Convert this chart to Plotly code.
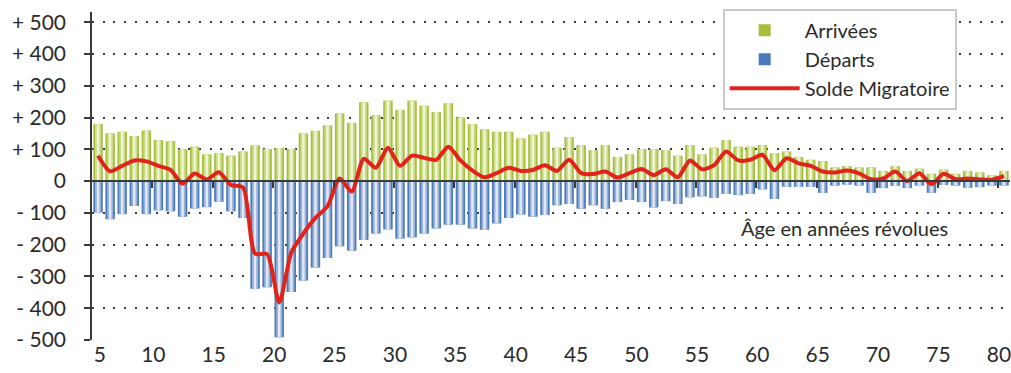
import plotly.graph_objects as go

# Ages (completed years) on the horizontal axis
ages = list(range(5, 81))

# Arrivals per age
arrivees = [179, 150, 155, 142, 159, 129, 125, 100, 108, 84,
            88, 80, 93, 112, 101, 104, 101, 150, 158, 175,
            213, 183, 248, 207, 253, 224, 253, 237, 217, 245,
            200, 179, 163, 155, 155, 134, 146, 155, 105, 138,
            113, 97, 113, 76, 84, 101, 101, 97, 80, 113,
            84, 105, 129, 108, 108, 113, 88, 93, 76, 67,
            63, 43, 47, 43, 43, 32, 47, 32, 39, 23,
            36, 23, 32, 27, 18, 32]

# Departures per age (negative)
departs = [-99, -120, -104, -78, -104, -92, -95, -112, -86, -82,
           -65, -95, -116, -339, -334, -491, -349, -313, -272, -242,
           -205, -219, -185, -165, -152, -181, -177, -165, -149, -137,
           -137, -149, -153, -133, -116, -105, -112, -107, -76, -72,
           -87, -76, -87, -66, -59, -66, -83, -63, -72, -51,
           -48, -53, -40, -44, -40, -26, -56, -18, -18, -18,
           -37, -14, -11, -14, -37, -22, -15, -22, -14, -37,
           -12, -14, -21, -19, -14, -14]

# Net migration per age
solde = [80, 31, 48, 65, 62, 48, 35, -8, 24, 5,
         28, -12, -20, -228, -230, -382, -225, -165, -116, -79,
         8, -33, 70, 42, 105, 48, 80, 73, 67, 108,
         65, 33, 12, 25, 42, 32, 35, 50, 32, 67,
         25, 22, 30, 11, 25, 38, 19, 37, 12, 65,
         37, 50, 93, 65, 67, 83, 34, 72, 56, 48,
         30, 27, 33, 24, 6, 8, 30, 0, 25, -10,
         23, 6, 8, 5, 4, 16]

# Axis labels
y_ticks = [500, 400, 300, 200, 100, 0, -100, -200, -300, -400, -500]
y_labels = ["+ 500", "+ 400", "+ 300", "+ 200", "+ 100", "0",
            "- 100", "- 200", "- 300", "- 400", "- 500"]
x_labels = [str(a) for a in range(5, 81, 5)]

FONT = "Lato, 'Open Sans', sans-serif"
TXT = "#2b2b2b"
X_RANGE = [4.5, 80.5]
Y_RANGE = [-500, 532]

fig = go.Figure()


def striped_bars(values, name, colors):
    # Layered bars of decreasing width give a light centre stripe
    for i, (w, c) in enumerate(zip([0.78, 0.5, 0.2], colors)):
        fig.add_bar(
            x=ages, y=values, width=w, name=name,
            marker=dict(color=c, line=dict(width=0)),
            showlegend=(i == 0), legendgroup=name, hoverinfo="skip",
        )


striped_bars(arrivees, "Arrivées", ["#a6bf3b", "#cbdc86", "#eef3da"])
striped_bars(departs, "Départs", ["#4b7aba", "#98b2d8", "#e3e9f4"])

fig.add_scatter(
    x=ages, y=solde, name="Solde Migratoire", xaxis="x2",
    mode="lines", line=dict(color="#e2231a", width=4, shape="spline", smoothing=0.7),
    hoverinfo="skip",
)

zero_pos = (0 - Y_RANGE[0]) / (Y_RANGE[1] - Y_RANGE[0])

fig.update_layout(
    width=1011, height=373,
    margin=dict(l=92, r=1, t=12, b=33),
    paper_bgcolor="white", plot_bgcolor="white",
    barmode="overlay",
    font=dict(family=FONT, color=TXT),
    xaxis=dict(
        range=X_RANGE, showgrid=False, zeroline=False, showline=False,
        tickmode="array",
        tickvals=[5.15] + [a - 0.42 for a in range(10, 81, 5)],
        ticktext=x_labels, ticks="", tickfont=dict(size=21, color=TXT),
        ticklabeloverflow="allow",
    ),
    xaxis2=dict(
        range=X_RANGE, overlaying="x", anchor="free", position=zero_pos,
        showgrid=False, zeroline=False, showticklabels=False,
        showline=True, linecolor="#3a3a3a", linewidth=2,
        tickmode="array", tickvals=[a - 0.5 for a in range(10, 81, 5)],
        ticks="outside", ticklen=6, tickwidth=1.5, tickcolor="#3a3a3a",
    ),
    yaxis=dict(
        range=Y_RANGE, tickmode="array", tickvals=y_ticks, ticktext=y_labels,
        showgrid=True, gridcolor="#3a3a3a", gridwidth=2, griddash="2px,8.7px",
        zeroline=False, showline=True, linecolor="#3a3a3a", linewidth=1.5,
        ticks="outside", ticklen=6, tickwidth=1.5, tickcolor="#3a3a3a",
        tickfont=dict(size=21, color=TXT), ticklabelstandoff=14,
    ),
    legend=dict(
        x=0.687, y=1.01, xanchor="left", yanchor="top",
        bgcolor="white", bordercolor="#c9c9c9", borderwidth=2,
        font=dict(size=20, color=TXT, family=FONT),
        itemwidth=70, tracegroupgap=0,
    ),
    annotations=[dict(
        x=66.8, y=-148, xref="x", yref="y", text="Âge en années révolues",
        showarrow=False, font=dict(size=20, color=TXT, family=FONT),
    )],
)

fig.write_html("out.html")
